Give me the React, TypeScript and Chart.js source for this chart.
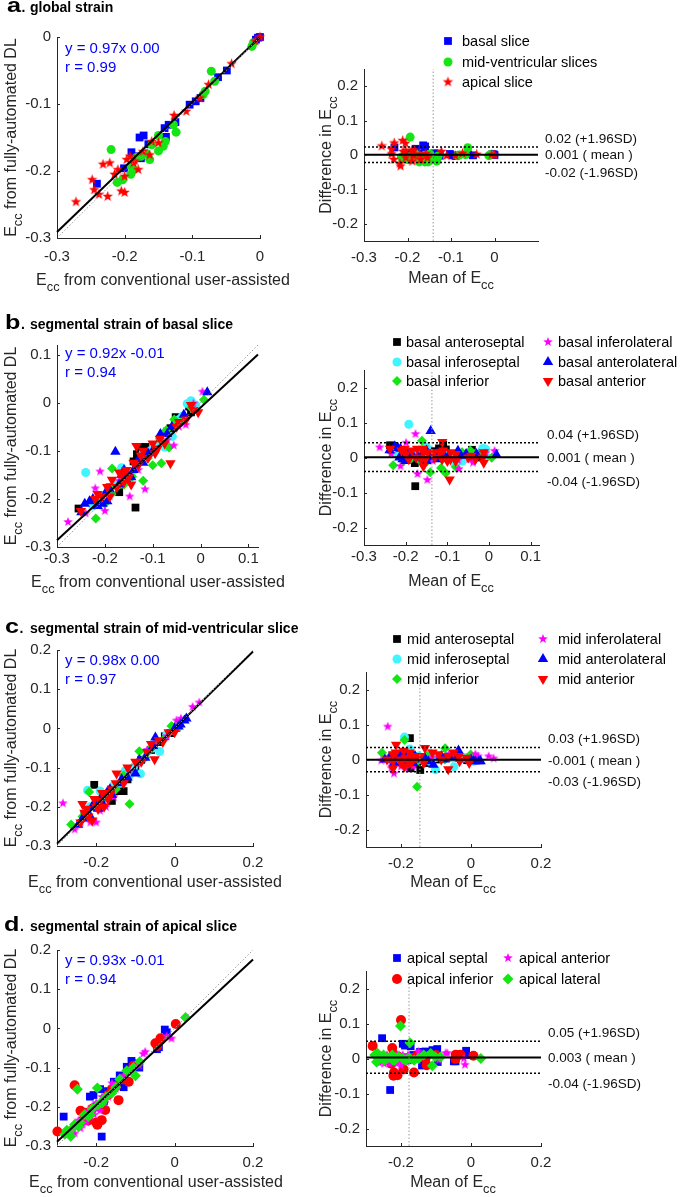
import React, { useEffect, useRef } from 'react';
import { Chart, registerables } from 'chart.js';
Chart.register(...registerables);

type Pair = [number, number]; // [conventional user-assisted, fully-automated DL]

// ---------- a. global strain ----------
const aBasal: Pair[] = [
  [-0.241, -0.219], [-0.201, -0.196], [-0.190, -0.172], [-0.183, -0.178], [-0.178, -0.150], [-0.172, -0.147],
  [-0.176, -0.181], [-0.165, -0.160], [-0.141, -0.136], [-0.139, -0.149], [-0.135, -0.131], [-0.125, -0.127],
  [-0.104, -0.101], [-0.095, -0.096], [-0.088, -0.091], [-0.062, -0.060], [-0.049, -0.050], [-0.006, -0.004],
  [-0.003, -0.001], [0.000, 0.000],
];
const aMid: Pair[] = [
  [-0.220, -0.168], [-0.211, -0.217], [-0.203, -0.213], [-0.191, -0.205], [-0.190, -0.193], [-0.187, -0.198],
  [-0.183, -0.180], [-0.176, -0.178], [-0.168, -0.174], [-0.163, -0.183], [-0.160, -0.161], [-0.150, -0.147],
  [-0.150, -0.170], [-0.143, -0.163], [-0.140, -0.156], [-0.128, -0.131], [-0.124, -0.142], [-0.084, -0.086],
  [-0.081, -0.081], [-0.072, -0.051], [-0.067, -0.066], [-0.012, -0.014], [-0.010, -0.009],
];
const aApical: Pair[] = [
  [-0.272, -0.246], [-0.248, -0.213], [-0.245, -0.228], [-0.238, -0.235], [-0.232, -0.190], [-0.225, -0.238],
  [-0.222, -0.188], [-0.215, -0.205], [-0.210, -0.198], [-0.205, -0.230], [-0.200, -0.232], [-0.200, -0.208],
  [-0.197, -0.183], [-0.192, -0.178], [-0.187, -0.188], [-0.185, -0.185], [-0.180, -0.198], [-0.173, -0.171],
  [-0.163, -0.176], [-0.160, -0.156], [-0.150, -0.158], [-0.127, -0.117], [-0.109, -0.111], [-0.089, -0.091],
  [-0.076, -0.071], [-0.042, -0.040], [-0.007, -0.006], [0.000, 0.000],
];

// ---------- b. basal slice ----------
const bAnteroseptal: Pair[] = [
  [-0.255, -0.220], [-0.210, -0.200], [-0.190, -0.176], [-0.170, -0.186], [-0.155, -0.150], [-0.136, -0.218],
  [-0.140, -0.122], [-0.133, -0.107], [-0.128, -0.092], [-0.115, -0.092], [-0.100, -0.101], [-0.085, -0.080],
  [-0.070, -0.060], [-0.063, -0.053], [-0.052, -0.030], [-0.045, -0.040], [-0.024, -0.008], [-0.020, -0.020],
];
const bInferoseptal: Pair[] = [
  [-0.240, -0.145], [-0.225, -0.215], [-0.205, -0.205], [-0.190, -0.180], [-0.175, -0.170], [-0.165, -0.135],
  [-0.155, -0.160], [-0.145, -0.150], [-0.130, -0.125], [-0.120, -0.105], [-0.105, -0.100], [-0.090, -0.090],
  [-0.075, -0.092], [-0.059, -0.070], [-0.045, -0.035], [-0.038, -0.028], [-0.028, -0.002], [-0.020, 0.004],
  [-0.010, -0.005],
];
const bInferior: Pair[] = [
  [-0.219, -0.241], [-0.200, -0.210], [-0.186, -0.190], [-0.175, -0.175], [-0.185, -0.137], [-0.160, -0.170],
  [-0.143, -0.154], [-0.120, -0.162], [-0.110, -0.115], [-0.100, -0.130], [-0.082, -0.126], [-0.085, -0.075],
  [-0.066, -0.093], [-0.072, -0.057], [-0.055, -0.035], [-0.040, -0.040], [-0.020, -0.010], [0.007, 0.006],
];
const bInferolateral: Pair[] = [
  [-0.277, -0.248], [-0.240, -0.230], [-0.220, -0.178], [-0.210, -0.143], [-0.200, -0.225], [-0.190, -0.195],
  [-0.170, -0.162], [-0.148, -0.195], [-0.130, -0.140], [-0.116, -0.180], [-0.100, -0.100], [-0.085, -0.075],
  [-0.070, -0.078], [-0.056, -0.089], [-0.045, -0.050], [-0.031, -0.046], [-0.015, -0.002], [0.004, 0.023],
];
const bAnterolateral: Pair[] = [
  [-0.249, -0.228], [-0.242, -0.210], [-0.232, -0.205], [-0.225, -0.200], [-0.215, -0.215], [-0.205, -0.210],
  [-0.200, -0.190], [-0.195, -0.205], [-0.190, -0.180], [-0.178, -0.102], [-0.170, -0.170], [-0.165, -0.150],
  [-0.160, -0.140], [-0.155, -0.160], [-0.145, -0.155], [-0.140, -0.140], [-0.130, -0.118], [-0.120, -0.125],
  [-0.110, -0.105], [-0.100, -0.100], [-0.084, -0.065], [-0.070, -0.065], [-0.060, -0.050], [-0.035, -0.025],
  [0.014, 0.022],
];
const bAnterior: Pair[] = [
  [-0.250, -0.225], [-0.220, -0.200], [-0.215, -0.190], [-0.205, -0.195], [-0.195, -0.175], [-0.190, -0.195],
  [-0.185, -0.160], [-0.175, -0.175], [-0.170, -0.145], [-0.165, -0.150], [-0.160, -0.165], [-0.155, -0.140],
  [-0.150, -0.155], [-0.145, -0.170], [-0.140, -0.125], [-0.134, -0.090], [-0.130, -0.130], [-0.125, -0.110],
  [-0.120, -0.100], [-0.110, -0.115], [-0.100, -0.085], [-0.095, -0.105], [-0.090, -0.095], [-0.085, -0.075],
  [-0.075, -0.085], [-0.063, -0.126], [-0.050, -0.050], [-0.045, -0.040], [-0.030, -0.035], [-0.020, -0.005],
  [-0.015, -0.015], [-0.005, -0.020],
];

// ---------- c. mid-ventricular slice ----------
const cAnteroseptal: Pair[] = [
  [-0.230, -0.220], [-0.210, -0.200], [-0.205, -0.144], [-0.190, -0.200], [-0.175, -0.170], [-0.160, -0.185],
  [-0.148, -0.160], [-0.130, -0.160], [-0.130, -0.125], [-0.120, -0.130], [-0.100, -0.100], [-0.085, -0.080],
  [-0.060, -0.055], [-0.040, -0.035], [-0.025, -0.020], [-0.010, -0.012], [0.005, 0.002],
];
const cInferoseptal: Pair[] = [
  [-0.222, -0.158], [-0.215, -0.200], [-0.200, -0.195], [-0.190, -0.160], [-0.180, -0.175], [-0.170, -0.165],
  [-0.155, -0.145], [-0.140, -0.140], [-0.126, -0.108], [-0.115, -0.120], [-0.105, -0.100], [-0.087, -0.116],
  [-0.070, -0.060], [-0.055, -0.050], [-0.038, -0.059], [-0.020, -0.015], [-0.005, -0.005], [0.010, 0.005],
];
const cInferior: Pair[] = [
  [-0.264, -0.245], [-0.235, -0.225], [-0.218, -0.162], [-0.200, -0.195], [-0.180, -0.180], [-0.160, -0.165],
  [-0.150, -0.155], [-0.130, -0.120], [-0.115, -0.193], [-0.090, -0.058], [-0.075, -0.075], [-0.060, -0.050],
  [-0.045, -0.035], [-0.030, -0.030], [-0.008, 0.006], [0.005, 0.008],
];
const cInferolateral: Pair[] = [
  [-0.285, -0.191], [-0.255, -0.258], [-0.240, -0.240], [-0.225, -0.230], [-0.215, -0.240], [-0.200, -0.240],
  [-0.190, -0.210], [-0.175, -0.200], [-0.155, -0.175], [-0.130, -0.135], [-0.115, -0.110], [-0.095, -0.090],
  [-0.070, -0.055], [-0.050, -0.040], [-0.020, -0.020], [0.005, 0.020], [0.016, 0.025], [0.046, 0.055],
  [0.063, 0.066],
];
const cAnterolateral: Pair[] = [
  [-0.246, -0.246], [-0.235, -0.230], [-0.225, -0.215], [-0.215, -0.225], [-0.210, -0.200], [-0.205, -0.190],
  [-0.195, -0.205], [-0.190, -0.180], [-0.185, -0.190], [-0.180, -0.175], [-0.170, -0.160], [-0.165, -0.155],
  [-0.160, -0.170], [-0.140, -0.140], [-0.135, -0.130], [-0.120, -0.125], [-0.100, -0.115], [-0.090, -0.080],
  [-0.075, -0.075], [-0.055, -0.045], [-0.049, -0.023], [0.000, 0.000], [0.010, 0.005], [0.015, 0.010],
  [0.025, 0.020], [0.030, 0.025],
];
const cAnterior: Pair[] = [
  [-0.240, -0.240], [-0.235, -0.193], [-0.230, -0.215], [-0.225, -0.205], [-0.220, -0.225], [-0.210, -0.235],
  [-0.205, -0.180], [-0.200, -0.200], [-0.195, -0.205], [-0.190, -0.185], [-0.185, -0.165], [-0.180, -0.200],
  [-0.175, -0.165], [-0.170, -0.180], [-0.165, -0.170], [-0.160, -0.155], [-0.150, -0.140], [-0.148, -0.115],
  [-0.130, -0.140], [-0.120, -0.100], [-0.100, -0.085], [-0.085, -0.085], [-0.070, -0.060], [-0.060, -0.040],
  [-0.051, -0.079], [-0.040, -0.030], [-0.030, -0.035], [-0.015, -0.010], [0.000, -0.010],
];

// ---------- d. apical slice ----------
const dSeptal: Pair[] = [
  [-0.283, -0.225], [-0.216, -0.174], [-0.207, -0.170], [-0.200, -0.200], [-0.190, -0.155], [-0.186, -0.276],
  [-0.180, -0.185], [-0.170, -0.160], [-0.155, -0.136], [-0.140, -0.120], [-0.130, -0.150], [-0.122, -0.098],
  [-0.110, -0.083], [-0.107, -0.089], [-0.090, -0.100], [-0.045, -0.053], [-0.040, -0.048], [-0.025, -0.003],
  [-0.020, -0.010],
];
const dInferior: Pair[] = [
  [-0.299, -0.263], [-0.255, -0.145], [-0.240, -0.210], [-0.235, -0.235], [-0.228, -0.215], [-0.220, -0.235],
  [-0.210, -0.205], [-0.200, -0.240], [-0.197, -0.246], [-0.186, -0.234], [-0.177, -0.208], [-0.170, -0.170],
  [-0.160, -0.155], [-0.150, -0.148], [-0.143, -0.183], [-0.130, -0.130], [-0.117, -0.136], [-0.105, -0.095],
  [-0.049, -0.038], [-0.044, -0.045], [-0.036, -0.025], [0.003, 0.011],
];
const dAnterior: Pair[] = [
  [-0.265, -0.260], [-0.255, -0.268], [-0.245, -0.235], [-0.240, -0.255], [-0.235, -0.245], [-0.230, -0.225],
  [-0.225, -0.240], [-0.220, -0.210], [-0.215, -0.225], [-0.210, -0.200], [-0.205, -0.220], [-0.200, -0.190],
  [-0.200, -0.205], [-0.195, -0.200], [-0.190, -0.210], [-0.185, -0.175], [-0.180, -0.190], [-0.175, -0.180],
  [-0.170, -0.175], [-0.160, -0.140], [-0.150, -0.155], [-0.130, -0.120], [-0.120, -0.110], [-0.090, -0.095],
  [-0.080, -0.065], [-0.075, -0.060], [-0.020, -0.020], [-0.008, -0.026],
];
const dLateral: Pair[] = [
  [-0.280, -0.270], [-0.275, -0.260], [-0.270, -0.265], [-0.265, -0.275], [-0.260, -0.255], [-0.255, -0.245],
  [-0.248, -0.155], [-0.245, -0.250], [-0.240, -0.240], [-0.230, -0.220], [-0.220, -0.225], [-0.215, -0.220],
  [-0.210, -0.205], [-0.197, -0.152], [-0.195, -0.195], [-0.185, -0.190], [-0.180, -0.180], [-0.175, -0.175],
  [-0.160, -0.165], [-0.150, -0.150], [-0.140, -0.130], [-0.122, -0.108], [-0.100, -0.121], [-0.105, -0.100],
  [-0.089, -0.085], [0.028, 0.028],
];

// ---------- tick labels ----------
const ticksA = [-0.3, -0.2, -0.1, 0];
const ticksB = [-0.3, -0.2, -0.1, 0, 0.1];
const ticksCx = [-0.2, 0, 0.2];
const ticksCy = [-0.3, -0.2, -0.1, 0, 0.1, 0.2];
const ticksDiff = [-0.2, -0.1, 0, 0.1, 0.2];

// ---------- regression fits (slope, intercept) and texts ----------
const fitA: Pair = [0.97, 0.0];
const fitB: Pair = [0.92, -0.01];
const fitC: Pair = [0.98, 0.0];
const fitD: Pair = [0.93, -0.01];
const eqTexts = ['y = 0.97x 0.00', 'y = 0.92x -0.01', 'y = 0.98x 0.00', 'y = 0.93x -0.01'];
const rTexts = ['r = 0.99', 'r = 0.94', 'r = 0.97', 'r = 0.94'];

// ---------- Bland-Altman limits: [+1.96SD, mean, -1.96SD] and mean of Ecc ----------
const baA = [0.023, 0.001, -0.022];
const baB = [0.042, 0.001, -0.040];
const baC = [0.034, -0.001, -0.035];
const baD = [0.049, 0.003, -0.042];
const baMeanX = [-0.141, -0.137, -0.146, -0.177];
const baTextA = ['0.02 (+1.96SD)', '0.001 ( mean )', '-0.02 (-1.96SD)'];
const baTextB = ['0.04 (+1.96SD)', '0.001 ( mean )', '-0.04 (-1.96SD)'];
const baTextC = ['0.03 (+1.96SD)', '-0.001 ( mean )', '-0.03 (-1.96SD)'];
const baTextD = ['0.05 (+1.96SD)', '0.003 ( mean )', '-0.04 (-1.96SD)'];

const FONT = '"Liberation Sans", Arial, Helvetica, sans-serif';
const AXIS = '#262626';
const YW = 40;
const XH = 30;
const W = 685;

const BLUE = '#0000ff', GREEN = '#14e614', RED = '#ff0000', CYAN = '#3ff5ff', MAGENTA = '#ff00ff', BLACK = '#000000';

type Style = 'rect' | 'circle' | 'rectRot' | 'triangle' | 'triangleDown' | 'star';
interface Series { label: string; color: string; style: Style; r: number; data: Pair[]; }
interface LegendItem { s: number; mx: number; tx: number; y: number; }
interface Side {
  area: [number, number, number, number];
  x: Pair; y: Pair; xTicks: number[]; yTicks: number[]; xPad: number;
  titleX: number; titleBase: number;
}
interface Row {
  top: number; height: number; letter: string; letterX: number; title: string; titleBase: number;
  series: Series[]; legend: LegendItem[];
  left: Side & { fit: Pair; eq: string; r: string; eqBase: number };
  right: Side & { ba: number[]; meanX: number; baText: string[]; labelX: number };
}

const rows: Row[] = [
  {
    top: 0, height: 300, letter: 'a', letterX: 7, title: 'global strain', titleBase: 12,
    series: [
      { label: 'basal slice', color: BLUE, style: 'rect', r: 5.5, data: aBasal },
      { label: 'mid-ventricular slices', color: GREEN, style: 'circle', r: 4.5, data: aMid },
      { label: 'apical slice', color: RED, style: 'star', r: 5.5, data: aApical },
    ],
    legend: [
      { s: 0, mx: 448, tx: 462, y: 41 }, { s: 1, mx: 448, tx: 462, y: 62 }, { s: 2, mx: 448, tx: 462, y: 82 },
    ],
    left: { area: [57, 37, 260, 238], x: [-0.3, 0], y: [-0.3, 0], xTicks: ticksA, yTicks: ticksA, xPad: 10,
      titleX: 163, titleBase: 285, fit: fitA, eq: eqTexts[0], r: rTexts[0], eqBase: 53 },
    right: { area: [364, 69, 538, 241], x: [-0.3, 0.1], y: [-0.25, 0.25], xTicks: ticksA, yTicks: ticksDiff, xPad: 8,
      titleX: 451, titleBase: 283, ba: baA, meanX: baMeanX[0], baText: baTextA, labelX: 545 },
  },
  {
    top: 300, height: 300, letter: 'b', letterX: 5, title: 'segmental strain of basal slice', titleBase: 329,
    series: [
      { label: 'basal anteroseptal', color: BLACK, style: 'rect', r: 5.5, data: bAnteroseptal },
      { label: 'basal inferoseptal', color: CYAN, style: 'circle', r: 4.5, data: bInferoseptal },
      { label: 'basal inferior', color: GREEN, style: 'rectRot', r: 5, data: bInferior },
      { label: 'basal inferolateral', color: MAGENTA, style: 'star', r: 5, data: bInferolateral },
      { label: 'basal anterolateral', color: BLUE, style: 'triangle', r: 6, data: bAnterolateral },
      { label: 'basal anterior', color: RED, style: 'triangleDown', r: 6, data: bAnterior },
    ],
    legend: [
      { s: 0, mx: 397, tx: 406, y: 342 }, { s: 1, mx: 397, tx: 406, y: 362 }, { s: 2, mx: 397, tx: 406, y: 381 },
      { s: 3, mx: 548, tx: 558, y: 342 }, { s: 4, mx: 548, tx: 558, y: 362 }, { s: 5, mx: 548, tx: 558, y: 381 },
    ],
    left: { area: [57, 345, 258, 547], x: [-0.3, 0.12], y: [-0.3, 0.12], xTicks: ticksB, yTicks: ticksB, xPad: 3,
      titleX: 158, titleBase: 587, fit: fitB, eq: eqTexts[1], r: rTexts[1], eqBase: 358 },
    right: { area: [364, 370, 539, 545], x: [-0.3, 0.12], y: [-0.25, 0.25], xTicks: ticksB, yTicks: ticksDiff, xPad: 3,
      titleX: 451, titleBase: 586, ba: baB, meanX: baMeanX[1], baText: baTextB, labelX: 547 },
  },
  {
    top: 600, height: 300, letter: 'c', letterX: 5, title: 'segmental strain of mid-ventricular slice', titleBase: 633,
    series: [
      { label: 'mid anteroseptal', color: BLACK, style: 'rect', r: 5.5, data: cAnteroseptal },
      { label: 'mid inferoseptal', color: CYAN, style: 'circle', r: 4.5, data: cInferoseptal },
      { label: 'mid inferior', color: GREEN, style: 'rectRot', r: 5, data: cInferior },
      { label: 'mid inferolateral', color: MAGENTA, style: 'star', r: 5, data: cInferolateral },
      { label: 'mid anterolateral', color: BLUE, style: 'triangle', r: 6, data: cAnterolateral },
      { label: 'mid anterior', color: RED, style: 'triangleDown', r: 6, data: cAnterior },
    ],
    legend: [
      { s: 0, mx: 397, tx: 407, y: 639 }, { s: 1, mx: 397, tx: 407, y: 659 }, { s: 2, mx: 397, tx: 407, y: 679 },
      { s: 3, mx: 543, tx: 558, y: 639 }, { s: 4, mx: 543, tx: 558, y: 659 }, { s: 5, mx: 543, tx: 558, y: 679 },
    ],
    left: { area: [57, 650, 253, 846], x: [-0.3, 0.2], y: [-0.3, 0.2], xTicks: ticksCx, yTicks: ticksCy, xPad: 8,
      titleX: 155, titleBase: 887, fit: fitC, eq: eqTexts[2], r: rTexts[2], eqBase: 665 },
    right: { area: [366, 672, 541, 847], x: [-0.3, 0.2], y: [-0.25, 0.25], xTicks: ticksCx, yTicks: ticksDiff, xPad: 8,
      titleX: 453, titleBase: 887, ba: baC, meanX: baMeanX[2], baText: baTextC, labelX: 548 },
  },
  {
    top: 900, height: 297, letter: 'd', letterX: 4, title: 'segmental strain of apical slice', titleBase: 931,
    series: [
      { label: 'apical septal', color: BLUE, style: 'rect', r: 5.5, data: dSeptal },
      { label: 'apical inferior', color: RED, style: 'circle', r: 5, data: dInferior },
      { label: 'apical anterior', color: MAGENTA, style: 'star', r: 5, data: dAnterior },
      { label: 'apical lateral', color: GREEN, style: 'rectRot', r: 5.5, data: dLateral },
    ],
    legend: [
      { s: 0, mx: 397, tx: 407, y: 958 }, { s: 1, mx: 397, tx: 407, y: 979 },
      { s: 2, mx: 508, tx: 519, y: 958 }, { s: 3, mx: 508, tx: 519, y: 979 },
    ],
    left: { area: [57, 950, 253, 1146], x: [-0.3, 0.2], y: [-0.3, 0.2], xTicks: ticksCx, yTicks: ticksCy, xPad: 8,
      titleX: 156, titleBase: 1187, fit: fitD, eq: eqTexts[3], r: rTexts[3], eqBase: 965 },
    right: { area: [366, 971, 541, 1146], x: [-0.3, 0.2], y: [-0.25, 0.25], xTicks: ticksCx, yTicks: ticksDiff, xPad: 8,
      titleX: 453, titleBase: 1187, ba: baD, meanX: baMeanX[3], baText: baTextD, labelX: 548 },
  },
];

function starImage(color: string, R: number): HTMLCanvasElement {
  const size = Math.ceil(R * 2 + 2);
  const c = document.createElement('canvas');
  c.width = size; c.height = size;
  const g = c.getContext('2d')!;
  g.fillStyle = color;
  g.beginPath();
  for (let k = 0; k < 10; k++) {
    const rad = k % 2 === 0 ? R : R * 0.42;
    const ang = -Math.PI / 2 + (k * Math.PI) / 5;
    const px = size / 2 + rad * Math.cos(ang);
    const py = size / 2 + rad * Math.sin(ang);
    if (k === 0) g.moveTo(px, py); else g.lineTo(px, py);
  }
  g.closePath();
  g.fill();
  return c;
}

function drawMarker(ctx: CanvasRenderingContext2D, s: Series, x: number, y: number, img?: HTMLCanvasElement) {
  const r = s.r;
  if (s.style === 'star' && img) {
    ctx.drawImage(img, x - img.width / 2, y - img.height / 2);
    return;
  }
  ctx.fillStyle = s.color;
  ctx.beginPath();
  if (s.style === 'rect') {
    const h = r * Math.SQRT1_2;
    ctx.rect(x - h, y - h, 2 * h, 2 * h);
  } else if (s.style === 'circle') {
    ctx.arc(x, y, r, 0, Math.PI * 2);
  } else if (s.style === 'rectRot') {
    ctx.moveTo(x, y - r); ctx.lineTo(x + r, y); ctx.lineTo(x, y + r); ctx.lineTo(x - r, y); ctx.closePath();
  } else {
    const base = s.style === 'triangleDown' ? Math.PI : 0;
    for (let k = 0; k < 3; k++) {
      const a = base + (k * 2 * Math.PI) / 3;
      const px = x + Math.sin(a) * r, py = y - Math.cos(a) * r;
      if (k === 0) ctx.moveTo(px, py); else ctx.lineTo(px, py);
    }
    ctx.closePath();
  }
  ctx.fill();
}

type Part = [string, boolean];
function drawRich(ctx: CanvasRenderingContext2D, parts: Part[], x: number, y: number, size: number) {
  const sub = size * 0.8;
  const widths = parts.map(([t, s]) => { ctx.font = `${s ? sub : size}px ${FONT}`; return ctx.measureText(t).width; });
  const total = widths.reduce((a, b) => a + b, 0);
  let cx = x - total / 2;
  ctx.textAlign = 'left';
  ctx.textBaseline = 'alphabetic';
  parts.forEach(([t, s], i) => {
    ctx.font = `${s ? sub : size}px ${FONT}`;
    ctx.fillText(t, cx, y + (s ? size * 0.4 : 0));
    cx += widths[i];
  });
}

const fmt = (v: number) => String(Number(v.toFixed(2)));

function buildConfig(row: Row, side: 'left' | 'right'): any {
  const p = side === 'left' ? row.left : row.right;
  const [l, t, r, b] = p.area;
  const stars = row.series.map((s) => (s.style === 'star' ? starImage(s.color, s.r) : undefined));
  const datasets: any[] = row.series.map((s, i) => ({
    label: s.label,
    data: s.data.map(([c, d]) => (side === 'left' ? { x: c, y: d } : { x: (c + d) / 2, y: d - c })),
    pointStyle: s.style === 'star' ? stars[i] : s.style === 'triangleDown' ? 'triangle' : s.style,
    rotation: s.style === 'triangleDown' ? 180 : 0,
    pointRadius: s.r,
    backgroundColor: s.color,
    borderColor: s.color,
    pointBorderWidth: 0,
    showLine: false,
    clip: false,
    order: 10 - i,
  }));
  const line = (pts: Pair[], color: string, width: number, dash: number[]) => ({
    data: pts.map(([x, y]) => ({ x, y })),
    showLine: true, borderColor: color, borderWidth: width, borderDash: dash,
    pointRadius: 0, fill: false, order: 0, clip: false,
  });
  const [x0, x1] = p.x;
  if (side === 'left') {
    const [m, c] = row.left.fit;
    datasets.push(line([[x0, x0], [x1, x1]], '#9a9a9a', 1, [1.5, 2]));
    datasets.push(line([[x0, m * x0 + c], [x1, m * x1 + c]], '#000', 2, []));
  } else {
    const rr = row.right;
    datasets.push(line([[rr.meanX, -0.25], [rr.meanX, 0.25]], '#9a9a9a', 1, [1.5, 2]));
    datasets.push(line([[x0, rr.ba[0]], [x1, rr.ba[0]]], '#000', 1.5, [2, 2]));
    datasets.push(line([[x0, rr.ba[2]], [x1, rr.ba[2]]], '#000', 1.5, [2, 2]));
    datasets.push(line([[x0, rr.ba[1]], [x1, rr.ba[1]]], '#000', 2, []));
  }

  const extras = {
    id: 'extras-' + side,
    afterDraw(chart: any) {
      const ctx: CanvasRenderingContext2D = chart.ctx;
      const ca = chart.chartArea;
      const xs = chart.scales.x, ys = chart.scales.y;
      const T = row.top;
      ctx.save();
      // inward tick marks
      ctx.strokeStyle = AXIS; ctx.lineWidth = 1; ctx.setLineDash([]);
      ctx.beginPath();
      xs.ticks.forEach((tk: any) => {
        const px = Math.round(xs.getPixelForValue(tk.value)) + 0.5;
        ctx.moveTo(px, ca.bottom); ctx.lineTo(px, ca.bottom - 3);
      });
      ys.ticks.forEach((tk: any) => {
        const py = Math.round(ys.getPixelForValue(tk.value)) + 0.5;
        ctx.moveTo(ca.left, py); ctx.lineTo(ca.left + 3, py);
      });
      ctx.stroke();

      const cy = (ca.top + ca.bottom) / 2;
      if (side === 'left') {
        // panel title
        ctx.fillStyle = '#000';
        ctx.textAlign = 'left'; ctx.textBaseline = 'alphabetic';
        ctx.font = `bold 21px ${FONT}`;
        const sx = 1.2;
        const lw = ctx.measureText(row.letter).width * sx;
        ctx.save();
        ctx.translate(row.letterX, row.titleBase - T);
        ctx.scale(sx, 1);
        ctx.fillText(row.letter, 0, 0);
        ctx.restore();
        ctx.font = `bold 14px ${FONT}`;
        ctx.fillText('.', row.letterX + lw + 0.5, row.titleBase - T);
        ctx.fillText(row.title, 30, row.titleBase - T);
        // regression text
        ctx.fillStyle = '#0000ff';
        ctx.font = `15px ${FONT}`;
        ctx.fillText(row.left.eq, 65, row.left.eqBase - T);
        ctx.fillText(row.left.r, 65, row.left.eqBase - T + 19);
        // axis titles
        ctx.fillStyle = AXIS;
        drawRich(ctx, [['E', false], ['cc', true], [' from conventional user-assisted', false]], row.left.titleX, row.left.titleBase - T, 16);
        ctx.save();
        ctx.translate(16, cy);
        ctx.rotate(-Math.PI / 2);
        drawRich(ctx, [['E', false], ['cc', true], [' from fully-automated DL', false]], 0, 0, 16);
        ctx.restore();
      } else {
        const rr = row.right;
        // legend
        row.legend.forEach((it) => {
          const s = row.series[it.s];
          drawMarker(ctx, s, it.mx, it.y - T, stars[it.s]);
          ctx.fillStyle = '#000';
          ctx.font = `14.5px ${FONT}`;
          ctx.textAlign = 'left'; ctx.textBaseline = 'middle';
          ctx.fillText(s.label, it.tx, it.y - T + 1);
        });
        // limits of agreement labels
        const offs = [-8, 1, 11];
        ctx.fillStyle = '#111';
        ctx.font = `13.5px ${FONT}`;
        ctx.textAlign = 'left'; ctx.textBaseline = 'middle';
        rr.baText.forEach((txt, i) => {
          ctx.fillText(txt, rr.labelX, ys.getPixelForValue(rr.ba[i]) + offs[i]);
        });
        // axis titles
        ctx.fillStyle = AXIS;
        drawRich(ctx, [['Mean of E', false], ['cc', true]], rr.titleX, rr.titleBase - T, 16);
        ctx.save();
        ctx.translate(331, cy);
        ctx.rotate(-Math.PI / 2);
        drawRich(ctx, [['Difference in E', false], ['cc', true]], 0, 0, 16);
        ctx.restore();
      }
      ctx.restore();
    },
  };

  const axis = (min: number, max: number, ticks: number[], horizontal: boolean, pad: number) => ({
    type: 'linear',
    min, max,
    position: horizontal ? 'bottom' : 'left',
    grid: { display: false, drawTicks: false },
    border: { display: true, color: AXIS, width: 1 },
    ticks: {
      autoSkip: false, maxRotation: 0, padding: pad, color: AXIS,
      font: { family: FONT, size: 15 },
      callback: (v: number) => fmt(v),
    },
    afterBuildTicks: (s: any) => { s.ticks = ticks.map((v) => ({ value: v })); },
    afterFit: (s: any) => { if (horizontal) s.height = XH; else s.width = YW; },
  });

  return {
    type: 'scatter',
    data: { datasets },
    options: {
      responsive: false,
      maintainAspectRatio: false,
      devicePixelRatio: 1,
      animation: false,
      events: [],
      layout: {
        autoPadding: false,
        padding: { left: l - YW, top: t - row.top, right: W - r, bottom: row.top + row.height - b - XH },
      },
      plugins: { legend: { display: false }, tooltip: { enabled: false }, title: { display: false } },
      scales: {
        x: axis(p.x[0], p.x[1], p.xTicks, true, p.xPad),
        y: axis(p.y[0], p.y[1], p.yTicks, false, 6),
      },
    },
    plugins: [extras],
  };
}

function Panel({ row, side }: { row: Row; side: 'left' | 'right' }) {
  const ref = useRef<HTMLCanvasElement>(null);
  useEffect(() => {
    const chart = new Chart(ref.current!, buildConfig(row, side));
    return () => chart.destroy();
  }, [row, side]);
  return (
    <canvas
      ref={ref}
      width={W}
      height={row.height}
      style={{ position: 'absolute', left: 0, top: row.top, width: W, height: row.height }}
    />
  );
}

export default function App() {
  return (
    <div style={{ position: 'absolute', left: 0, top: 0, width: W, height: 1197, background: '#fff', overflow: 'hidden' }}>
      {rows.map((row, i) => (
        <React.Fragment key={i}>
          <Panel row={row} side="left" />
          <Panel row={row} side="right" />
        </React.Fragment>
      ))}
    </div>
  );
}
